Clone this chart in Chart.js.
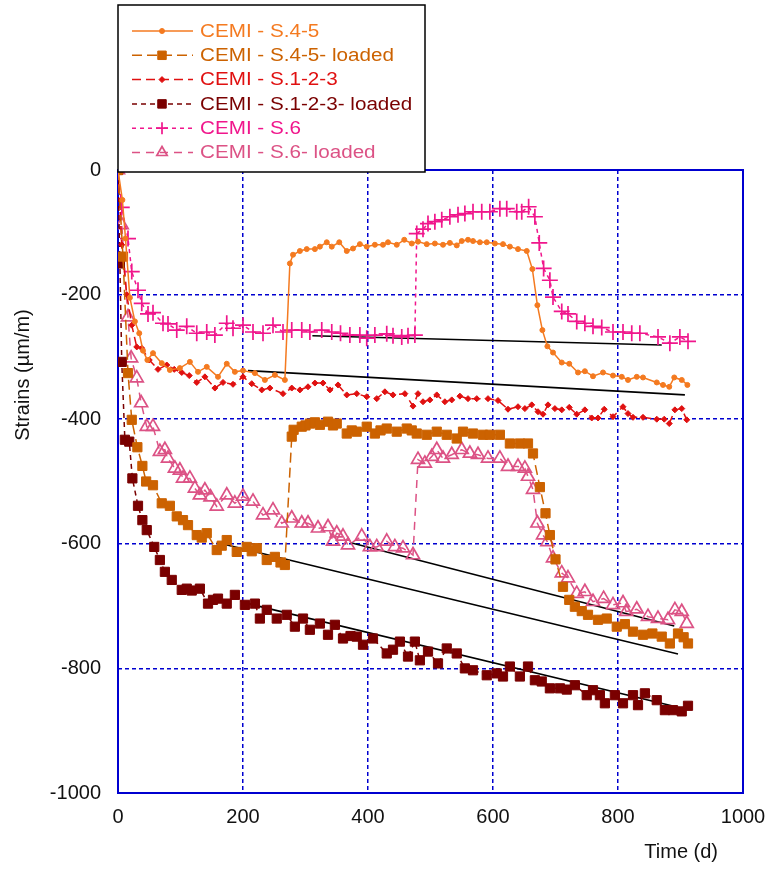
<!DOCTYPE html>
<html>
<head>
<meta charset="utf-8">
<script src="https://cdn.jsdelivr.net/npm/chart.js@4.4.0/dist/chart.umd.min.js"></script>
<style>
  html, body { margin: 0; padding: 0; background: #fff; }
  #wrap { width: 768px; height: 869px; }
</style>
</head>
<body>
<div id="wrap"><canvas id="strains" width="768" height="869"></canvas></div>
<script>
// [day, strain µm/m]
const s45 = [[0,0],[7,-48],[12,-110],[19,-205],[27,-243],[34,-262],[40,-290],[47,-305],[56,-294],[70,-310],[83,-321],[99,-318],[115,-308],[128,-324],[142,-316],[160,-332],[174,-311],[187,-324],[200,-322],[219,-326],[235,-337],[251,-329],[267,-337],[275,-150],[280,-136],[291,-130],[302,-127],[315,-127],[323,-123],[334,-116],[342,-123],[354,-116],[366,-130],[376,-126],[387,-119],[398,-123],[411,-120],[424,-120],[432,-116],[446,-120],[458,-112],[470,-118],[480,-115],[494,-119],[507,-118],[520,-120],[531,-117],[542,-121],[550,-114],[560,-112],[568,-114],[579,-116],[590,-116],[603,-118],[616,-119],[627,-123],[640,-127],[654,-130],[663,-159],[671,-217],[679,-257],[687,-283],[696,-293],[710,-309],[722,-311],[736,-325],[747,-323],[760,-331],[776,-325],[792,-330],[806,-332],[816,-337],[830,-332],[840,-333],[862,-341],[872,-345],[882,-348],[890,-333],[902,-337],[911,-345]];

const s45Loaded = [[0,0],[8,-139],[16,-326],[22,-401],[31,-445],[39,-475],[45,-500],[56,-506],[70,-535],[83,-539],[94,-556],[104,-562],[112,-570],[126,-586],[134,-590],[142,-583],[158,-610],[166,-603],[174,-594],[190,-613],[206,-605],[214,-612],[222,-607],[238,-626],[251,-621],[260,-630],[267,-634],[278,-428],[281,-417],[294,-412],[300,-410],[307,-407],[315,-405],[323,-409],[336,-404],[344,-410],[350,-407],[366,-423],[374,-418],[382,-420],[398,-412],[411,-423],[420,-418],[430,-415],[446,-420],[462,-415],[470,-418],[478,-423],[494,-425],[510,-420],[526,-425],[542,-431],[552,-420],[568,-423],[584,-425],[595,-425],[611,-425],[627,-439],[643,-439],[656,-439],[664,-455],[675,-509],[684,-551],[691,-586],[700,-625],[712,-669],[722,-690],[731,-701],[742,-708],[752,-714],[768,-722],[782,-720],[798,-733],[811,-729],[824,-741],[840,-746],[855,-744],[870,-749],[883,-760],[896,-744],[905,-750],[912,-760]];

const s123 = [[0,0],[6,-120],[14,-200],[22,-249],[30,-284],[38,-286],[50,-305],[64,-320],[78,-313],[90,-320],[102,-325],[114,-330],[126,-341],[139,-332],[155,-350],[168,-341],[184,-344],[200,-332],[214,-343],[230,-353],[243,-350],[264,-359],[278,-350],[291,-353],[304,-348],[315,-342],[328,-342],[339,-353],[352,-345],[366,-361],[382,-359],[398,-364],[414,-367],[427,-356],[440,-361],[459,-359],[472,-379],[480,-359],[488,-372],[499,-369],[510,-361],[523,-372],[534,-369],[547,-363],[560,-367],[574,-367],[592,-367],[608,-370],[624,-384],[640,-380],[651,-383],[662,-377],[672,-388],[680,-392],[688,-377],[699,-383],[710,-385],[722,-381],[734,-392],[747,-385],[758,-398],[768,-398],[778,-384],[792,-396],[808,-380],[816,-391],[824,-397],[840,-397],[862,-400],[874,-400],[882,-407],[891,-385],[902,-383],[910,-401]];

const s123Loaded = [[0,0],[3,-150],[6,-308],[11,-433],[18,-436],[23,-495],[32,-539],[39,-562],[46,-578],[58,-605],[67,-626],[75,-645],[86,-658],[102,-674],[110,-672],[118,-675],[131,-672],[144,-696],[152,-690],[160,-688],[174,-696],[187,-682],[203,-698],[219,-696],[227,-720],[238,-706],[254,-720],[270,-714],[283,-733],[296,-720],[307,-738],[323,-728],[336,-746],[347,-730],[360,-752],[372,-748],[382,-749],[392,-762],[408,-752],[430,-776],[440,-770],[451,-757],[464,-781],[475,-757],[483,-787],[496,-773],[512,-792],[526,-768],[542,-776],[555,-800],[568,-803],[590,-811],[606,-808],[616,-813],[627,-797],[643,-813],[656,-797],[667,-819],[678,-821],[691,-832],[707,-832],[718,-834],[731,-827],[750,-843],[760,-835],[771,-843],[779,-856],[795,-843],[808,-856],[824,-843],[832,-859],[843,-840],[862,-851],[875,-867],[888,-867],[902,-869],[912,-860]];

const s6 = [[0,0],[6,-60],[16,-110],[22,-163],[32,-193],[38,-214],[48,-231],[56,-229],[72,-246],[80,-247],[94,-257],[110,-251],[126,-262],[142,-260],[155,-265],[174,-246],[184,-254],[200,-249],[216,-260],[232,-262],[248,-249],[264,-260],[278,-257],[294,-257],[307,-260],[326,-257],[342,-260],[356,-262],[371,-265],[387,-265],[398,-270],[411,-265],[430,-263],[440,-266],[454,-268],[464,-266],[475,-265],[478,-102],[488,-95],[496,-86],[507,-83],[518,-80],[531,-75],[544,-72],[555,-70],[568,-67],[582,-67],[595,-67],[611,-62],[622,-62],[638,-67],[646,-67],[657,-59],[667,-75],[674,-117],[681,-158],[691,-177],[696,-204],[710,-227],[720,-231],[734,-243],[747,-246],[760,-251],[774,-253],[792,-260],[808,-260],[822,-262],[835,-262],[864,-268],[883,-278],[899,-268],[912,-275]];

const s6Loaded = [[0,0],[6,-88],[16,-236],[21,-302],[30,-334],[37,-374],[46,-412],[56,-412],[67,-452],[75,-449],[80,-463],[91,-479],[99,-482],[104,-495],[115,-495],[123,-511],[131,-522],[139,-514],[148,-525],[158,-540],[174,-522],[187,-535],[200,-524],[216,-532],[232,-554],[248,-546],[262,-567],[278,-559],[294,-567],[304,-567],[320,-575],[336,-573],[344,-596],[350,-583],[360,-588],[368,-602],[390,-588],[403,-605],[414,-605],[430,-596],[443,-605],[456,-607],[472,-618],[480,-465],[491,-471],[502,-460],[510,-449],[520,-463],[534,-457],[550,-449],[563,-455],[576,-457],[592,-463],[611,-463],[624,-476],[640,-476],[651,-479],[656,-492],[664,-513],[671,-567],[680,-586],[687,-597],[696,-623],[710,-647],[720,-655],[734,-680],[747,-677],[760,-693],[777,-688],[792,-698],[808,-695],[813,-709],[830,-705],[848,-717],[864,-720],[880,-722],[891,-706],[902,-709],[910,-728]];

// black fitted lines
const trend6 = [[311,-266],[870,-281]];
const trend45 = [[208,-322],[907,-361]];
const trend45Loaded = [[158,-598],[896,-777]];
const trend6Loaded = [[371,-598],[890,-732]];
const trend123Loaded = [[208,-696],[886,-860]];

const xTicks = [0, 200, 400, 600, 800, 1000];
const yTicks = [0, -200, -400, -600, -800, -1000];

const FONT = "'Liberation Sans', Arial, sans-serif";
const GRID_BLUE = '#0000d0';

const toXY = arr => arr.map(p => ({ x: p[0], y: p[1] }));

function series(label, arr, color, dash, style, radius, fill, bw) {
  return {
    label: label,
    data: toXY(arr),
    showLine: true,
    borderColor: color,
    borderWidth: 1.5,
    borderDash: dash,
    pointStyle: style,
    pointRadius: radius,
    pointBackgroundColor: fill,
    pointBorderColor: color,
    pointBorderWidth: bw,
    textColor: color
  };
}

function trend(arr) {
  return {
    label: '',
    trend: true,
    data: toXY(arr),
    showLine: true,
    borderColor: '#000',
    borderWidth: 1.6,
    pointRadius: 0
  };
}

const datasets = [
  series('CEMI - S.4-5', s45, '#f47a20', [], 'circle', 2.5, '#f47a20', 1),
  series('CEMI - S.4-5- loaded', s45Loaded, '#cc6200', [10, 5], 'rect', 6.5, '#cc6200', 1),
  series('CEMI - S.1-2-3', s123, '#e01010', [9, 5], 'rectRot', 3, '#e01010', 1),
  series('CEMI - S.1-2-3- loaded', s123Loaded, '#7a0000', [5, 4], 'rect', 6.5, '#7a0000', 1),
  series('CEMI - S.6', s6, '#f0168c', [4, 4], 'cross', 8, '#f0168c', 1.7),
  series('CEMI - S.6- loaded', s6Loaded, '#dc5285', [8, 6], 'triangle', 7.5, 'rgba(255,255,255,0)', 1.7),
  trend(trend6), trend(trend45), trend(trend45Loaded), trend(trend6Loaded), trend(trend123Loaded)
];

// solid blue frame under the data
const frame = {
  id: 'frame',
  beforeDatasetsDraw(chart) {
    const a = chart.chartArea, ctx = chart.ctx;
    ctx.save();
    ctx.strokeStyle = GRID_BLUE;
    ctx.lineWidth = 2;
    ctx.setLineDash([]);
    ctx.strokeRect(a.left, a.top, a.right - a.left, a.bottom - a.top);
    ctx.restore();
  }
};

// boxed legend at the top and the two axis titles
const boxLegend = {
  id: 'boxLegend',
  afterDraw(chart) {
    const ctx = chart.ctx;
    ctx.save();
    ctx.fillStyle = '#fff';
    ctx.fillRect(118, 5, 307, 167);
    ctx.strokeStyle = '#000';
    ctx.lineWidth = 1.5;
    ctx.strokeRect(118, 5, 307, 167);

    chart.data.datasets.filter(d => !d.trend).forEach((ds, i) => {
      const y = 31 + i * 24.3;
      ctx.strokeStyle = ds.borderColor;
      ctx.lineWidth = 1.5;
      ctx.setLineDash(ds.borderDash);
      ctx.beginPath();
      ctx.moveTo(132, y);
      ctx.lineTo(193, y);
      ctx.stroke();
      ctx.setLineDash([]);
      ctx.fillStyle = ds.pointBackgroundColor;
      ctx.strokeStyle = ds.pointBorderColor;
      ctx.lineWidth = ds.pointBorderWidth;
      Chart.helpers.drawPoint(ctx, {
        pointStyle: ds.pointStyle, radius: Math.min(ds.pointRadius, 6), borderWidth: ds.pointBorderWidth, rotation: 0
      }, 162, y);

      ctx.save();
      ctx.translate(200, y + 1);
      ctx.scale(1.18, 1);
      ctx.fillStyle = ds.textColor;
      ctx.font = '17.5px ' + FONT;
      ctx.textBaseline = 'middle';
      ctx.textAlign = 'left';
      ctx.fillText(ds.label, 0, 0);
      ctx.restore();
    });

    ctx.fillStyle = '#111';
    ctx.font = '20px ' + FONT;
    ctx.textBaseline = 'middle';
    ctx.textAlign = 'right';
    ctx.fillText('Time (d)', 718, 852);

    ctx.translate(23, 375);
    ctx.rotate(-Math.PI / 2);
    ctx.textAlign = 'center';
    ctx.fillText('Strains (\u00b5m/m)', 0, 0);
    ctx.restore();
  }
};

new Chart(document.getElementById('strains'), {
  type: 'scatter',
  data: { datasets: datasets },
  options: {
    responsive: false,
    animation: false,
    events: [],
    layout: { padding: { top: 170, right: 25, left: 0, bottom: 0 } },
    plugins: { legend: { display: false }, tooltip: { enabled: false }, title: { display: false } },
    scales: {
      x: {
        type: 'linear',
        min: 0,
        max: 1000,
        afterFit: s => { s.height = 76; s.paddingLeft = 0; s.paddingRight = 0; },
        afterBuildTicks: s => { s.ticks = xTicks.map(v => ({ value: v })); },
        ticks: {
          padding: 12,
          maxRotation: 0,
          color: '#111',
          font: { family: FONT, size: 20 },
          callback: v => String(v)
        },
        grid: { color: GRID_BLUE, lineWidth: 1.5, drawTicks: false },
        border: { display: false, dash: [4, 3] }
      },
      y: {
        type: 'linear',
        min: -1000,
        max: 0,
        afterFit: s => { s.width = 118; s.paddingTop = 0; s.paddingBottom = 0; },
        afterBuildTicks: s => { s.ticks = yTicks.map(v => ({ value: v })); },
        ticks: {
          padding: 17,
          color: '#111',
          font: { family: FONT, size: 20 },
          callback: v => String(v)
        },
        grid: { color: GRID_BLUE, lineWidth: 1.5, drawTicks: false },
        border: { display: false, dash: [4, 3] }
      }
    }
  },
  plugins: [frame, boxLegend]
});
</script>
</body>
</html>
